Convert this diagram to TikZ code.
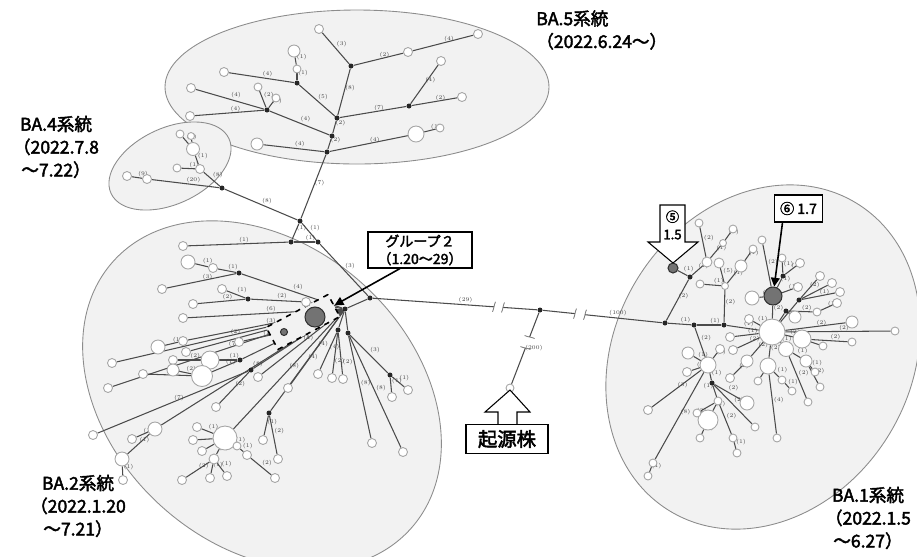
\documentclass[tikz,border=0pt]{standalone}
\usepackage{fontspec}
\newfontfamily\jp{Noto Sans CJK JP}[AutoFakeBold=2.5]
\usetikzlibrary{positioning,backgrounds,arrows.meta,calc}

\definecolor{cladefill}{RGB}{242,242,242}
\definecolor{cladeline}{RGB}{140,140,140}
\definecolor{edgegray}{RGB}{75,75,75}
\definecolor{hapline}{RGB}{165,165,165}
\definecolor{pickgray}{RGB}{115,115,115}

\tikzset{
  clade/.style={draw=cladeline, fill=cladefill, line width=0.5pt},
  hap/.style={circle, draw=hapline, fill=white, line width=0.5pt, inner sep=0pt, minimum size=0.18cm},
  med/.style={circle, fill=black!85, inner sep=0pt, minimum size=0.1cm},
  pick/.style={circle, draw=black!80, fill=pickgray, line width=0.6pt, inner sep=0pt},
  edge/.style={draw=edgegray, line width=0.6pt},
  cnt/.style={font=\fontsize{3.2}{3.5}\selectfont, text=black!75, inner sep=0.3pt, anchor=south west},
  lineage/.style={font=\jp\bfseries\fontsize{10}{13}\selectfont, align=center, inner sep=0pt},
  tagbox/.style={draw, line width=0.6pt, fill=white, font=\jp\bfseries\fontsize{8}{10}\selectfont, align=center, inner sep=1pt},
  blockarr/.style={draw, line width=0.6pt, fill=white, line join=miter},
  pointer/.style={line width=0.9pt, -{Triangle[length=5pt,width=5pt]}},
  brk/.style={draw=gray, line width=0.5pt}
}

\begin{document}
\begin{tikzpicture}[x=0.02cm, y=-0.02cm]
  \useasboundingbox (0,0) rectangle (917,556);

  % lineage areas
  \begin{scope}[on background layer]
    \draw[clade, shift={(357,87)}] (0,0) ellipse [x radius=192, y radius=77];
    \draw[clade, shift={(170,166)}, rotate=25] (0,0) ellipse [x radius=65, y radius=38];
    \draw[clade, shift={(262,395)}, rotate=-42] (0,0) ellipse [x radius=200, y radius=150];
    \draw[clade, shift={(763,357)}, rotate=59] (0,0) ellipse [x radius=180, y radius=148];
  \end{scope}

  % group 2 frame
  \node[draw, dashed, line width=0.9pt, fill=gray!10, rotate=28, minimum width=1.4cm, minimum height=0.5cm] (grp) at (303,322) {};

  % median vectors
  \foreach \n/\x/\y in {a5a/327/152, a5b/332/136, a5c/337/118, a5d/351/66, a5e/297/83, a5f/267/110, a5g/409/106,
      j1/300/221, j2/291/242, j3/318/242, a4m/222/188,
      b0/370/298, h2/345/309, m1/239/273, m2/248/299, m3/240/360, m4/251/370, m5/269/413, m6/338/330, m7/348/333, m8/390/375,
      m0/540/310,
      k1/665/323, k2/694/325, k3/724/325, k5/690/277, k6/783/276, k7/786/311, k8/799/300, k9/712/383}
    \node[med] (\n) at (\x,\y) {};

  % haplotypes
  \foreach \n/\x/\y/\d in {p1/257/144/12, p2/416/134/16, p3/440/128/8, p4/319/29/9, p5/408/52/9, p6/478/34/9, p7/224/72/9,
      p8/297/69/8, p9/294/51/12, p10/191/88/9, p11/190/116/9, p12/258/87/8, p13/276/98/8, p14/441/61/9, p15/462/97/9,
      q1/127/176/9, q2/147/179/9, q3/177/168/8, q4/200/169/9, q5/193/149/13, q6/180/134/8, q7/191/136/7,
      b1/183/246/9, b2/213/268/9, b3/188/262/14, b4/162/289/9, b5/222/289/9, b6/193/304/9, b7/306/302/9, b8/183/318/9,
      b9/183/341/9, b10/158/347/14, b11/239/342/9, b12/186/352/9, b13/112/363/9, b14/173/360/9, b15/173/370/12,
      b16/210/360/18, b17/202/376/21, b18/143/374/9, b19/108/388/9, b20/93/435/9, b21/216/407/9, b22/258/377/9,
      b23/288/388/9, b24/225/438/24, b25/197/427/9, b26/193/440/9, b27/202/451/9, b28/214/459/10, b29/247/455/9,
      b30/275/478/9, b31/237/446/8, b32/182/480/9, b33/210/478/9, b34/227/476/9, b35/155/429/14, b36/132/439/9,
      b37/122/459/14, b38/123/480/9, b39/263/440/9, b40/278/459/9, b41/318/374/9, b42/332/378/9, b43/343/379/9,
      b44/372/443/9, b45/403/452/9, b46/392/397/9, b47/408/390/9,
      o/510/388/8,
      k4/772/332/26, c1/707/262/10, c2/699/223/8, c3/723/243/7, c4/733/229/8, c5/725/286/7, c6/700/284/8,
      c7/719/263/10, c8/741/266/12, c9/753/249/8, c10/752/298/14, c11/762/240/8, c12/782/258/8, c13/800/263/9,
      c14/798/287/9, c16/795/317/12, c17/817/312/8, c18/837/303/9, c19/840/292/9, c20/832/283/9, c21/820/276/9,
      c22/852/322/12, c23/895/331/8, c24/852/342/8, c25/802/339/18, c26/786/349/15, c27/768/366/16, c28/806/361/12,
      c29/823/346/8, c31/777/438/8, c32/808/402/8, c33/820/387/8, c34/815/372/8, c35/782/380/8, c36/792/391/8,
      c37/730/337/9, c38/733/350/9, c39/730/378/9, c40/747/361/12, c41/758/381/8, c42/749/319/9,
      c44/708/365/16, c45/688/353/12, c46/720/349/9, c47/687/372/9, c49/747/403/14, c50/755/427/8, c51/718/401/8,
      c52/708/420/20, c53/733/438/8, c54/737/453/8, c55/700/438/8, c56/697/413/8, c57/648/410/9, c59/653/463/8,
      c60/648/476/8}
    \node[hap, minimum size=\d*0.02cm] (\n) at (\x,\y) {};

  % sampled strains of interest
  \node[pick, minimum size=0.4cm] (g2) at (315,317) {};
  \node[pick, minimum size=0.14cm] (g2s) at (284,332) {};
  \node[pick, minimum size=0.2cm] (n5) at (673,268) {};
  \node[pick, minimum size=0.36cm] (n6) at (773,296) {};

  % break points on the long branches
  \coordinate (gA1) at (494,306.8);
  \coordinate (gA2) at (503,307.4);
  \coordinate (gB1) at (575,313.6);
  \coordinate (gB2) at (585,314.7);
  \coordinate (gC1) at (529.6,337);
  \coordinate (gC2) at (525.4,348);

  \begin{scope}[on background layer]
    \foreach \a/\b/\l in {a5a/p1/4, a5a/p2/4, p2/p3/1, a5a/a5b/2, a5b/a5c/2, a5b/a5f/4, a5c/a5d/8, a5c/a5e/5, a5c/a5g/7,
        a5d/p4/3, a5d/p5/2, p5/p6/4, a5e/p7/4, a5e/p8/1, p8/p9/1, a5f/p10/4, a5f/p11/4, a5f/p12/2, a5f/p13/1,
        a5g/p14/4, a5g/p15/2, a5a/j1/7,
        a4m/q2/20, q2/q1/9, a4m/q4/8, q4/q3/1, q4/q5/1, q5/q6/1, a4m/j1/8,
        j1/j2/1, j1/j3/1, j2/j3/1, j3/b0/3,
        j2/b1/1, h2/m1/4, m1/b2/1, b2/b3/1, m1/b4/3, m2/b7/2, m2/b5/1, m2/b6/2,
        h2/b8/6, h2/b9/3, b9/b10/1, g2s/b11/1, h2/b12/3, h2/b13/2, h2/m3/1, m3/b16/1, b16/b14/2, m3/b17/1,
        b17/b15/2, b17/b18/4, h2/b19/7, h2/m4/1, m4/b20/7, m4/b21/2, h2/b35/8, b35/b36/1, b35/b37/1, b37/b38/1,
        h2/b22/4, h2/b23/4, h2/b24/8, b24/b25/1, b24/b28/1, b24/b31/1, b31/b29/1, b29/b30/2,
        b28/b32/2, b28/b33/1, b28/b34/1, h2/m5/4, m5/b39/1, m5/b40/2, m6/b41/4,
        m7/b44/8, m7/b45/8, m7/m8/3, m8/b46/1, m8/b47/1, g2/g2s/1,
        k1/k2/1, k2/k3/1, k3/k4/1, k1/k5/2, k5/n5/1, k5/c1/1, c1/c2/2, c1/c3/1, c3/c4/1, k3/c5/2, c5/c6/1,
        c5/c7/5, c5/c8/1, c8/c9/1, k4/n6/2, n6/c10/1, n6/c11/2, n6/k6/1, k6/c12/1, k6/c13/1, n6/c14/1,
        k7/c17/2, c17/c18/1, k8/c21/2, k8/c19/1,
        k4/c22/2, k4/c23/2, k4/c25/2, c25/c24/2, k4/c26/1, c26/c28/1, k4/c27/2, c27/c31/4,
        c26/c32/2, c28/c33/2, c28/c34/1, c27/c35/1, c35/c36/1, k4/c37/1, k4/c38/2, k4/c40/2, c40/c39/2,
        c27/c41/1, k4/c42/1, k2/c44/2, c44/c45/1, c44/c46/1, c44/c47/1, c44/k9/1, k9/c49/2, k9/c50/2,
        c51/c52/1, c51/c53/2, c53/c54/1, c52/c55/1, c44/c57/3, c44/c59/8, c59/c60/1}
      \draw[edge] (\a) -- node[cnt]{(\l)} (\b);
    % counts set further along the branch
    \foreach \a/\b/\l in {m6/b42/2, m6/b43/2}
      \draw[edge] (\a) -- node[cnt, pos=0.8]{(\l)} (\b);
    \draw[edge] (k9) -- node[cnt, pos=0.4, anchor=south east]{(1)} (c51);
    \draw[edge] (c51) -- node[cnt, anchor=north east]{(2)} (c56);
    % short links, count left out
    \foreach \a/\b in {q5/q7, b0/h2, b7/h2, g2/h2, h2/m6, h2/m7, b24/b26, b24/b27,
        k4/k7, k7/c16, k4/k8, k8/c20, c25/c29}
      \draw[edge] (\a) -- (\b);

    % long branches to the root
    \draw[edge] (b0) -- node[cnt, pos=0.7]{(29)} (gA1);
    \draw[edge] (gA2) -- (m0);
    \draw[edge] (m0) -- (gB1);
    \draw[edge] (gB2) -- node[cnt, pos=0.3]{(100)} (k1);
    \draw[edge] (m0) -- (gC1);
    \draw[edge] (gC2) -- node[cnt, pos=0.1]{(200)} (o);
    \foreach \c in {gA1,gA2,gB1,gB2}
      \draw[brk] ([shift={(-1.5,5)}]\c) .. controls ([shift={(0,2)}]\c) and ([shift={(0,-2)}]\c) .. ([shift={(1.5,-5)}]\c);
    \foreach \c in {gC1,gC2}
      \draw[brk] ([shift={(-5,-1.5)}]\c) .. controls ([shift={(-2,0)}]\c) and ([shift={(2,0)}]\c) .. ([shift={(5,1.5)}]\c);
  \end{scope}

  % lineage labels
  \node[lineage, align=left, anchor=north west] (ba5lab) at (536,10) {BA.5系統\\（2022.6.24～）};
  \node[lineage] (ba4lab) at (56,147) {BA.4系統\\（2022.7.8\\～7.22）};
  \node[lineage] (ba2lab) at (78,506) {BA.2系統\\（2022.1.20\\～7.21）};
  \node[lineage] (ba1lab) at (868,518) {BA.1系統\\（2022.1.5\\～6.27）};

  % callouts
  \node[tagbox, minimum width=2.08cm, minimum height=0.72cm] (g2box) at (420,250) {グループ２\\（1.20～29）};
  \draw[pointer] ([xshift=-0.4cm]g2box.south) -- (grp.east);

  \draw[blockarr] (498,424) -- (498,412) -- (485,412) -- (510,390) -- (530,412) -- (517,412) -- (517,424);
  \node[tagbox, minimum width=1.64cm, minimum height=0.58cm, font=\jp\bfseries\fontsize{11}{13}\selectfont] (origbox) at (507,439) {起源株};

  \draw[blockarr] (660,205) -- (685,205) -- (685,242) -- (698,242) -- (673,263) -- (648,242) -- (660,242) -- cycle;
  \node[font=\jp\bfseries\fontsize{7.5}{10}\selectfont, align=center, inner sep=0pt] (lbl5) at (672.5,225) {⑤\\1.5};

  \node[tagbox, minimum width=0.96cm, minimum height=0.54cm] (box6) at (798.5,208.5) {⑥ 1.7};
  \draw[pointer] ([xshift=-0.32cm]box6.south) -- (n6);
\end{tikzpicture}
\end{document}
